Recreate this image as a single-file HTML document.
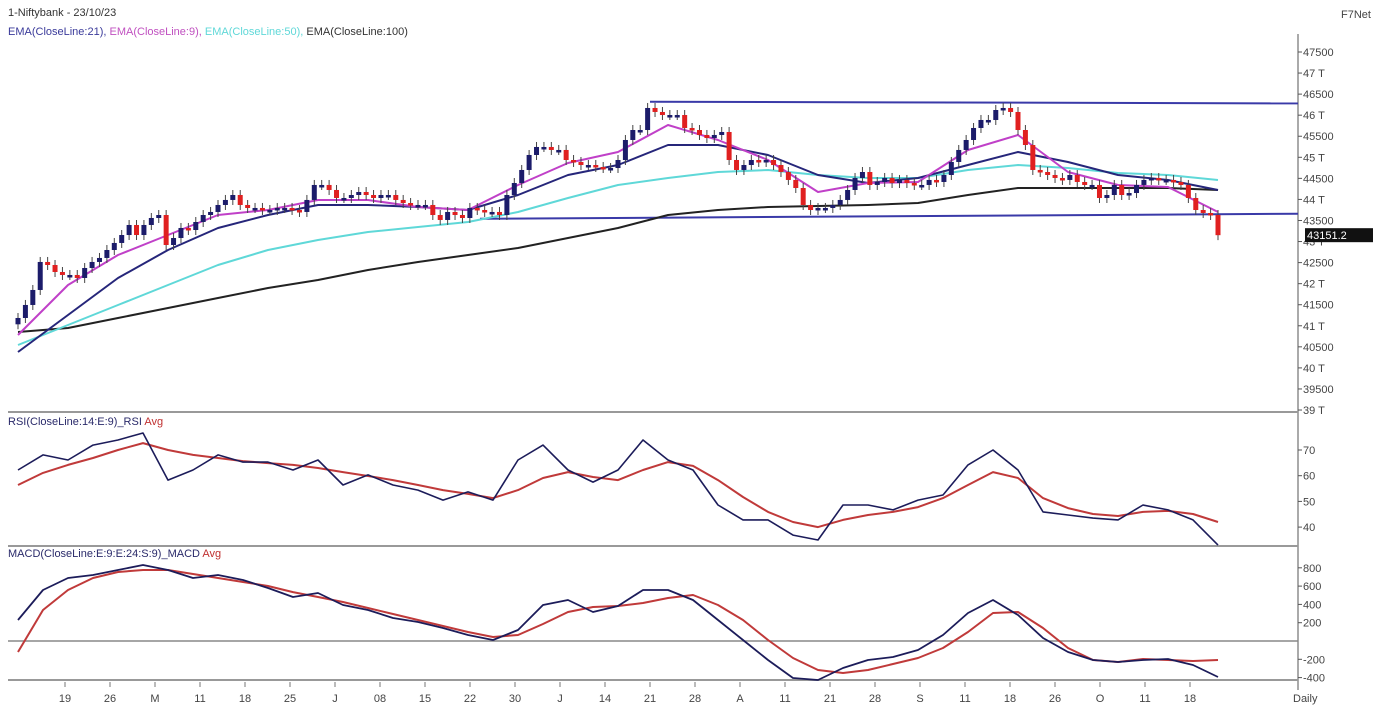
<!DOCTYPE html>
<html><head><meta charset="utf-8"><style>
html,body{margin:0;padding:0;background:#fff;}
svg{display:block;font-family:"Liberation Sans",sans-serif;}
</style></head><body>
<svg id="chart" width="1373" height="726" viewBox="0 0 1373 726" xmlns="http://www.w3.org/2000/svg">
<text x="8" y="16" font-size="11" fill="#333">1-Niftybank - 23/10/23</text>
<text x="8" y="35" font-size="11"><tspan fill="#3a3a9a">EMA(CloseLine:21), </tspan><tspan fill="#c050c0">EMA(CloseLine:9), </tspan><tspan fill="#60d8d8">EMA(CloseLine:50), </tspan><tspan fill="#333">EMA(CloseLine:100)</tspan></text>
<text x="1341" y="18" font-size="11" fill="#444">F7Net</text>
<line x1="1298" y1="34" x2="1298" y2="690" stroke="#555" stroke-width="1"/>
<line x1="8" y1="412" x2="1298" y2="412" stroke="#999" stroke-width="2"/>
<line x1="8" y1="546" x2="1298" y2="546" stroke="#999" stroke-width="2"/>
<line x1="8" y1="680" x2="1298" y2="680" stroke="#999" stroke-width="2"/>
<line x1="8" y1="641" x2="1298" y2="641" stroke="#888" stroke-width="1.5"/>
<text x="8" y="425" font-size="11"><tspan fill="#2a2a6a">RSI(CloseLine:14:E:9)_RSI </tspan><tspan fill="#c03030">Avg</tspan></text>
<text x="8" y="557" font-size="11"><tspan fill="#2a2a6a">MACD(CloseLine:E:9:E:24:S:9)_MACD </tspan><tspan fill="#c03030">Avg</tspan></text>
<text x="1293" y="702" font-size="11" fill="#444">Daily</text>
<g id="g"></g>
</svg>
<script>
const closes=[41185,41494,41850,42515,42443,42277,42206,42206,42135,42372,42515,42610,42799,42966,43155,43393,43155,43393,43559,43630,42918,43084,43322,43274,43464,43630,43702,43868,43987,44105,43868,43797,43797,43749,43749,43797,43797,43749,43702,43987,44343,44343,44224,44034,44034,44105,44176,44105,44034,44105,44105,43987,43915,43868,43868,43868,43630,43512,43702,43630,43559,43797,43749,43702,43702,43630,44105,44390,44699,45055,45245,45245,45174,45174,44936,44889,44817,44817,44770,44746,44746,44936,45411,45648,45648,46171,46076,46004,46004,46004,45696,45648,45530,45458,45530,45601,44936,44699,44817,44936,44889,44936,44817,44651,44462,44271,43868,43749,43797,43797,43868,43987,44224,44509,44651,44343,44414,44509,44390,44462,44390,44343,44343,44462,44414,44580,44889,45174,45411,45696,45886,45886,46123,46171,46076,45648,45292,44699,44651,44580,44509,44462,44580,44414,44343,44343,44034,44105,44343,44105,44152,44343,44462,44509,44462,44462,44414,44343,44034,43749,43678,43630,43151];
const ema9=[40781,41968,42680,43155,43630,43749,43986,43986,43820,43749,44342,44864,45126,45767,45410,44936,44176,44390,44413,45173,45529,44651,44342,44295,43701];
const ema21=[40378,41256,42134,42799,43321,43630,43867,43867,43820,43749,44105,44579,44817,45292,45292,45054,44579,44390,44508,44817,45126,44888,44579,44461,44223];
const ema50=[40544,41019,41493,41968,42443,42799,43036,43226,43345,43464,43701,44034,44342,44508,44651,44698,44579,44508,44508,44698,44817,44746,44627,44579,44461];
const ema100=[40852,40947,41185,41422,41660,41897,42087,42324,42514,42680,42846,43084,43321,43630,43749,43820,43844,43867,43915,44105,44271,44271,44271,44271,44223];
const rsi=[62.2,68.1,66.1,71.9,73.9,76.6,58.3,62.2,68.1,65.3,65.3,62.2,66.1,56.4,60.3,56.4,54.4,50.5,53.7,50.5,66.1,71.9,62.2,57.5,62.2,73.9,66.1,62.2,48.6,42.8,42.8,36.9,35.0,48.6,48.6,46.7,50.5,52.5,64.2,70,62.2,45.9,44.7,43.5,42.8,48.6,46.7,42.8,33];
const rsiAvg=[56.4,61.1,64.2,66.9,70,72.7,70,68.1,66.9,65.7,64.9,64.2,63,61.4,59.9,58.3,56.4,54.4,52.9,51.3,54.4,59.1,61.4,59.5,58.3,62.2,65.3,63.8,58.3,51.7,45.9,42,40,42.8,44.7,45.9,47.8,51.3,56.4,61.4,59.1,51.3,47.4,45.1,44.3,45.9,46.3,45.1,42];
const macd=[230,557,689,721,776,831,776,689,721,667,579,481,525,393,339,251,208,142,66,11,120,393,448,317,383,557,557,448,230,11,-208,-404,-426,-295,-208,-175,-98,66,306,448,284,33,-120,-208,-230,-208,-197,-262,-393];
const macdAvg=[-120,339,557,689,754,776,776,732,689,645,601,535,481,426,361,295,230,164,98,44,66,186,317,372,383,415,470,503,393,230,11,-186,-317,-350,-317,-251,-186,-77,98,306,317,142,-77,-208,-230,-197,-208,-219,-208];
const channelTop=[46320,46280];
const channelBottom=[43540,43660];
const priceTicks=[47500,47000,46500,46000,45500,45000,44500,44000,43500,43000,42500,42000,41500,41000,40500,40000,39500,39000];
const priceTickLabels=["47500","47 T","46500","46 T","45500","45 T","44500","44 T","43500","43 T","42500","42 T","41500","41 T","40500","40 T","39500","39 T"];
const rsiTicks=[70,60,50,40];
const macdTicks=[800,600,400,200,-200,-400];
const dateLabels=["19","26","M","11","18","25","J","08","15","22","30","J","14","21","28","A","11","21","28","S","11","18","26","O","11","18"];
const lastPrice="43151.2";

const X0=18,X1=1218;
const py=v=>52+(47500-v)*0.04212;
const ry=v=>450+(70-v)*2.57;
const my=v=>641-v/10.93;
const cx=i=>X0+i*(X1-X0)/(closes.length-1);
const sx=(i,n)=>X0+i*(X1-X0)/(n-1);
const NS="http://www.w3.org/2000/svg";
const g=document.getElementById('g');
function mk(t,a){const e=document.createElementNS(NS,t);for(const k in a)e.setAttribute(k,a[k]);g.appendChild(e);return e;}
function poly(arr,yf,color,w,name){
  const pts=arr.map((v,i)=>sx(i,arr.length).toFixed(1)+','+yf(v).toFixed(1)).join(' ');
  const e=mk('polyline',{points:pts,fill:'none',stroke:color,'stroke-width':w,'stroke-linejoin':'round'});
  
  
}
// channel lines
let e=mk('line',{x1:650,y1:py(channelTop[0]),x2:1298,y2:py(channelTop[1]),stroke:'#3a3aa8','stroke-width':2});


e=mk('line',{x1:480,y1:py(channelBottom[0]),x2:1298,y2:py(channelBottom[1]),stroke:'#3a3aa8','stroke-width':2});


// EMAs
poly(ema100,py,'#222',2,'ema-100-line');
poly(ema50,py,'#5fd8d8',2,'ema-50-line');
poly(ema21,py,'#26267a',2,'ema-21-line');
poly(ema9,py,'#c040c8',2,'ema-9-line');
// candles
closes.forEach((c,i)=>{
  const o=i===0?c-150:closes[i-1];
  const up=c>=o;
  const col=up?'#1c1c6a':'#e02020';
  const x=cx(i);
  const top=py(Math.max(o,c)),bot=py(Math.min(o,c));
  const w=mk('line',{x1:x,y1:top-5,x2:x,y2:bot+5,stroke:'#444','stroke-width':1});
  
  
  const r=mk('rect',{x:x-2.5,y:top,width:5,height:Math.max(2.5,bot-top),fill:col});
  
  
});
// RSI & MACD
poly(rsiAvg,ry,'#c03a3a',2,'rsi-avg-line');
poly(rsi,ry,'#1c1c5a',1.6,'rsi-line');
poly(macdAvg,my,'#c03a3a',2,'macd-avg-line');
poly(macd,my,'#1c1c5a',1.8,'macd-line');
// axis ticks
function tick(y,label,name){
  const t=mk('line',{x1:1298,y1:y,x2:1302,y2:y,stroke:'#555'});
  
  
  const tx=mk('text',{x:1303,y:y+4,'font-size':11,fill:'#444'});
  tx.textContent=label;
  
  
}
priceTicks.forEach((v,i)=>tick(py(v),priceTickLabels[i],'price-axis'));
rsiTicks.forEach(v=>tick(ry(v),String(v),'rsi-axis'));
macdTicks.forEach(v=>tick(my(v),String(v),'macd-axis'));
// last price box
const lb=mk('rect',{x:1305,y:py(43151)-7,width:68,height:14,fill:'#111'});


const lt=mk('text',{x:1307,y:py(43151)+4,'font-size':11,fill:'#fff'});
lt.textContent=lastPrice;


// date labels
dateLabels.forEach((d,i)=>{
  const x=65+i*45;
  const t=mk('line',{x1:x,y1:682,x2:x,y2:687,stroke:'#777'});
  
  
  const tx=mk('text',{x:x,y:702,'font-size':11,fill:'#444','text-anchor':'middle'});
  tx.textContent=d;
  
  
});
</script>
</body></html>
